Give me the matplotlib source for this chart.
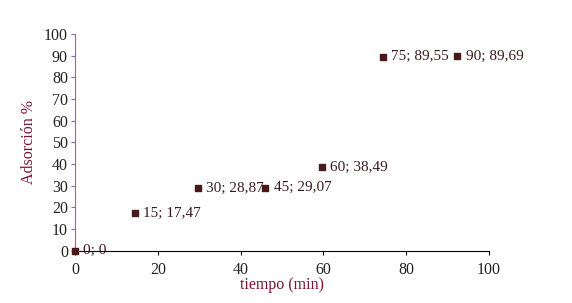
import matplotlib.pyplot as plt

# data
tiempo = [0, 14.5, 29.7, 46, 59.7, 74.4, 92.3]
adsorcion = [0, 17.47, 28.87, 29.07, 38.49, 89.55, 89.69]
etiquetas = ["0; 0", "15; 17,47", "30; 28,87", "45; 29,07",
             "60; 38,49", "75; 89,55", "90; 89,69"]
xticks = [0, 20, 40, 60, 80, 100]
yticks = [0, 10, 20, 30, 40, 50, 60, 70, 80, 90, 100]

plt.rcParams['font.family'] = ['Liberation Serif', 'DejaVu Serif']

fig = plt.figure(figsize=(5.72, 3.03), dpi=100)
ax = fig.add_axes([0.131, 0.172, 0.724, 0.716])

ax.scatter(tiempo, adsorcion, marker='s', s=24, color='#4a1a1a', zorder=3, clip_on=False)
for x, y, t in zip(tiempo, adsorcion, etiquetas):
    ax.annotate(t, (x, y), xytext=(6, 0), textcoords='offset points',
                va='center', ha='left', fontsize=11, color='#3a1a20')

ax.set_xlim(0, 100)
ax.set_ylim(0, 100)
ax.set_xticks(xticks)
ax.set_yticks(yticks)

ax.spines['top'].set_visible(False)
ax.spines['right'].set_visible(False)
ax.spines['left'].set_color('#8a6aa8')
ax.spines['bottom'].set_color('black')
ax.tick_params(axis='y', direction='out', length=3, colors='#8a6aa8',
               labelcolor='#222222', labelsize=11.5, pad=2)
ax.tick_params(axis='x', direction='out', length=3, colors='black',
               labelcolor='#222222', labelsize=11.5, pad=5)

ax.set_xlabel('tiempo (min)', fontsize=11.5, color='#7a1530', labelpad=-1)
ax.set_ylabel('Adsorción %', fontsize=11.5, color='#7a1530', labelpad=5)

plt.savefig('out.png', dpi=100)
